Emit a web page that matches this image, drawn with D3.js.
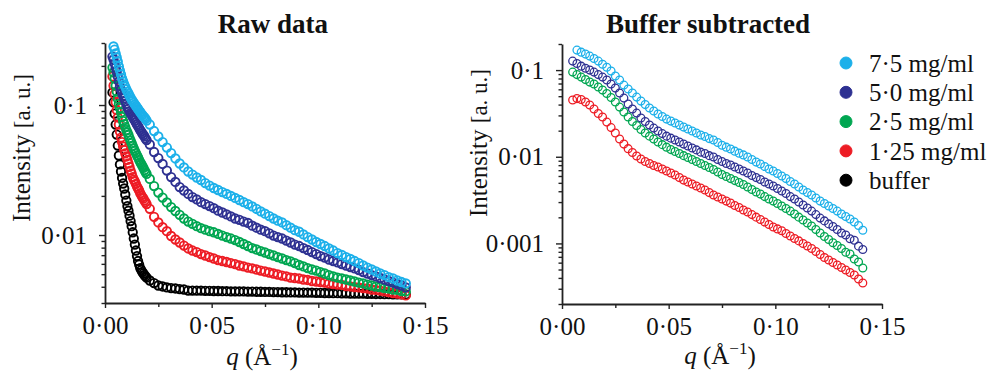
<!DOCTYPE html>
<html>
<head>
<meta charset="utf-8">
<script src="https://d3js.org/d3.v7.min.js"></script>
<style>
  body { margin: 0; background: #fff; }
  svg text { font-family: "Liberation Serif", "Times New Roman", serif; fill: #111; }
  .axis .domain { stroke: #222; stroke-width: 1.8; }
  .axis line { stroke: #222; stroke-width: 1.4; }
  .axis text { font-size: 25px; }
  .title { font-size: 27px; font-weight: bold; }
  .lab { font-size: 25px; }
</style>
</head>
<body>
<svg id="chart" width="987" height="374"></svg>
<script>
// ---- raw data panel (q in 1/A) ----
var rawQ = [0.0035,0.004,0.0045,0.005,0.0055,0.006,0.0065,0.007,0.0075,0.008,0.0085,0.009,0.0095,0.010,0.0105,0.011,0.0115,0.012,0.0125,0.013,0.0135,0.014,0.0145,0.015,0.0155,0.016,0.0165,0.017,0.0175,0.018,0.0185,0.019,0.0195,
  0.021,0.023,0.025,0.027,0.029,0.031,0.033,0.035,0.037,0.039,0.041,0.043,0.045,0.047,0.049,0.051,0.053,0.055,0.057,0.059,0.061,0.063,0.065,0.067,0.069,0.071,0.073,0.075,0.077,0.079,0.081,0.083,0.085,0.087,0.089,0.091,0.093,0.095,0.097,0.099,0.101,0.103,0.105,0.107,0.109,0.111,0.113,0.115,0.117,0.119,0.121,0.123,0.125,0.127,0.129,0.131,0.133,0.135,0.137,0.139,0.141];

var rawCyan = [null,0.282,0.267,0.249,0.232,0.216,0.198,0.184,0.172,0.160,0.152,0.144,0.138,0.132,0.127,0.123,0.118,0.114,0.110,0.107,0.104,0.101,0.0983,0.0957,0.0932,0.0907,0.0884,0.0860,0.0838,0.0816,0.0802,0.0781,0.0760,
  0.0708,0.0631,0.0573,0.0519,0.0471,0.0427,0.0388,0.0355,0.0331,0.0308,0.0292,0.0277,0.0265,0.0251,0.0240,0.0230,0.0222,0.0214,0.0207,0.0200,0.0193,0.0186,0.0179,0.0173,0.0166,0.0159,0.0152,0.0146,0.0140,0.0134,0.0129,0.0125,0.0119,0.0114,0.0109,0.0106,0.0101,0.00965,0.00924,0.00884,0.00853,0.00823,0.00788,0.00760,0.00727,0.00702,0.00677,0.00654,0.00631,0.00609,0.00583,0.00562,0.00543,0.00524,0.00506,0.00492,0.00475,0.00463,0.00447,0.00435,0.00424];

var rawBlue = [0.236,0.224,0.209,0.194,0.181,0.166,0.152,0.139,0.131,0.124,0.118,0.113,0.107,0.102,0.0965,0.0932,0.0899,0.0868,0.0838,0.0809,0.0781,0.0760,0.0734,0.0708,0.0689,0.0665,0.0642,0.0625,0.0604,0.0588,0.0573,0.0552,0.0538,
  0.0497,0.0435,0.0391,0.0352,0.0313,0.0279,0.0256,0.0234,0.0220,0.0207,0.0196,0.0188,0.0179,0.0173,0.0167,0.0161,0.0154,0.0149,0.0144,0.0139,0.0134,0.0131,0.0127,0.0124,0.0118,0.0114,0.0110,0.0107,0.0103,0.00991,0.00965,0.00940,0.00907,0.00876,0.00845,0.00823,0.00794,0.00767,0.00740,0.00714,0.00689,0.00671,0.00648,0.00631,0.00615,0.00598,0.00583,0.00567,0.00553,0.00538,0.00519,0.00506,0.00492,0.00480,0.00467,0.00455,0.00443,0.00431,0.00420,0.00409,0.00395];

var rawGreen = [0.194,0.178,0.160,0.141,0.127,0.112,0.102,0.0948,0.0876,0.0809,0.0753,0.0714,0.0677,0.0642,0.0615,0.0588,0.0557,0.0533,0.0510,0.0484,0.0463,0.0443,0.0427,0.0409,0.0395,0.0378,0.0364,0.0352,0.0340,0.0328,0.0316,0.0305,0.0295,
  0.0270,0.0238,0.0212,0.0194,0.0178,0.0164,0.0153,0.0143,0.0134,0.0127,0.0122,0.0117,0.0113,0.0110,0.0107,0.0105,0.0102,0.00991,0.00965,0.00940,0.00915,0.00884,0.00853,0.00823,0.00794,0.00774,0.00753,0.00734,0.00714,0.00696,0.00677,0.00660,0.00642,0.00626,0.00609,0.00588,0.00573,0.00557,0.00543,0.00533,0.00519,0.00506,0.00492,0.00480,0.00471,0.00463,0.00455,0.00447,0.00439,0.00431,0.00424,0.00416,0.00409,0.00402,0.00398,0.00391,0.00388,0.00381,0.00378,0.00371,0.00368];

var rawRed = [0.166,0.141,0.121,0.105,0.0915,0.0802,0.0708,0.0625,0.0562,0.0519,0.0480,0.0451,0.0424,0.0402,0.0378,0.0355,0.0334,0.0313,0.0297,0.0279,0.0267,0.0258,0.0247,0.0236,0.0228,0.0220,0.0210,0.0203,0.0196,0.0191,0.0184,0.0179,0.0173,
  0.0159,0.0138,0.0125,0.0115,0.0107,0.00983,0.00924,0.00876,0.00830,0.00788,0.00760,0.00740,0.00714,0.00696,0.00677,0.00660,0.00642,0.00631,0.00620,0.00609,0.00598,0.00583,0.00573,0.00562,0.00553,0.00543,0.00533,0.00524,0.00515,0.00506,0.00497,0.00488,0.00480,0.00471,0.00467,0.00463,0.00455,0.00451,0.00443,0.00439,0.00435,0.00431,0.00424,0.00420,0.00416,0.00413,0.00405,0.00402,0.00398,0.00395,0.00391,0.00388,0.00381,0.00378,0.00374,0.00368,0.00364,0.00358,0.00355,0.00349,0.00343];

var rawBuffer = [0.125,0.105,0.0860,0.0708,0.0593,0.0488,0.0409,0.0349,0.0308,0.0275,0.0249,0.0228,0.0205,0.0184,0.0167,0.0154,0.0141,0.0128,0.0117,0.0105,0.00940,0.00845,0.00760,0.00689,0.00631,0.00593,0.00557,0.00538,0.00519,0.00506,0.00492,0.00480,0.00471,
  0.00447,0.00427,0.00409,0.00402,0.00395,0.00391,0.00388,0.00384,0.00381,0.00374,0.00374,0.00373,0.00373,0.00372,0.00372,0.00371,0.00371,0.00370,0.00370,0.00369,0.00369,0.00368,0.00368,0.00367,0.00367,0.00366,0.00366,0.00365,0.00365,0.00364,0.00364,0.00363,0.00363,0.00362,0.00362,0.00361,0.00361,0.00360,0.00360,0.00359,0.00359,0.00358,0.00358,0.00357,0.00357,0.00356,0.00356,0.00355,0.00355,0.00354,0.00354,0.00353,0.00353,0.00352,0.00352,0.00351,0.00351,0.00350,0.00350,0.00349,0.00349];

// ---- buffer subtracted panel ----
var subQ = [0.005,0.007,0.009,0.011,0.013,0.015,0.017,0.019,0.021,0.023,0.025,0.027,0.029,0.031,0.033,0.035,0.037,0.039,0.041,0.043,0.045,0.047,0.049,0.051,0.053,0.055,0.057,0.059,0.061,0.063,0.065,0.067,0.069,0.071,0.073,0.075,0.077,0.079,0.081,0.083,0.085,0.087,0.089,0.091,0.093,0.095,0.097,0.099,0.101,0.103,0.105,0.107,0.109,0.111,0.113,0.115,0.117,0.119,0.121,0.123,0.125,0.127,0.129,0.131,0.133,0.135,0.137,0.139,0.141];

var subCyan = [null,0.170,0.161,0.153,0.145,0.136,0.127,0.117,0.108,0.0974,0.0853,0.0767,0.0671,0.0604,0.0543,0.0488,0.0439,0.0400,0.0365,0.0337,0.0311,0.0291,0.0272,0.0258,0.0245,0.0232,0.0220,0.0209,0.0198,0.0188,0.0178,0.0171,0.0162,0.0156,0.0146,0.0136,0.0129,0.0123,0.0116,0.0110,0.0105,0.00992,0.00928,0.00868,0.00824,0.00771,0.00721,0.00684,0.00640,0.00599,0.00560,0.00518,0.00484,0.00447,0.00413,0.00386,0.00362,0.00334,0.00308,0.00289,0.00270,0.00253,0.00236,0.00218,0.00204,0.00191,0.00177,0.00161,0.00142];

var subBlue = [0.127,0.119,0.111,0.105,0.100,0.0948,0.0887,0.0830,0.0767,0.0690,0.0620,0.0543,0.0475,0.0405,0.0355,0.0319,0.0280,0.0255,0.0232,0.0214,0.0198,0.0185,0.0173,0.0164,0.0156,0.0148,0.0140,0.0133,0.0126,0.0120,0.0113,0.0109,0.0103,0.00992,0.00928,0.00880,0.00835,0.00802,0.00761,0.00721,0.00684,0.00649,0.00607,0.00575,0.00546,0.00511,0.00484,0.00459,0.00430,0.00402,0.00376,0.00347,0.00325,0.00300,0.00277,0.00256,0.00236,0.00215,0.00196,0.00182,0.00168,0.00157,0.00145,0.00132,0.00125,0.00113,0.00109,0.000930,0.000850];

var subGreen = [0.0948,0.0887,0.0830,0.0777,0.0727,0.0690,0.0637,0.0588,0.0536,0.0482,0.0428,0.0374,0.0328,0.0287,0.0255,0.0229,0.0206,0.0188,0.0173,0.0160,0.0148,0.0138,0.0129,0.0121,0.0115,0.0109,0.0103,0.00979,0.00928,0.00880,0.00835,0.00792,0.00751,0.00712,0.00666,0.00623,0.00591,0.00560,0.00531,0.00504,0.00478,0.00447,0.00419,0.00392,0.00371,0.00347,0.00325,0.00308,0.00289,0.00270,0.00253,0.00236,0.00218,0.00201,0.00186,0.00172,0.00159,0.00145,0.00132,0.00120,0.00111,0.00102,0.000946,0.000873,0.000790,0.000755,0.000660,0.000610,0.000521];

var subRed = [0.0451,0.0469,0.0457,0.0428,0.0395,0.0355,0.0315,0.0287,0.0251,0.0217,0.0188,0.0160,0.0140,0.0124,0.0112,0.0102,0.00941,0.00880,0.00835,0.00792,0.00761,0.00721,0.00684,0.00649,0.00615,0.00575,0.00538,0.00511,0.00484,0.00459,0.00436,0.00413,0.00386,0.00362,0.00343,0.00325,0.00308,0.00292,0.00274,0.00260,0.00243,0.00230,0.00215,0.00201,0.00189,0.00177,0.00165,0.00155,0.00147,0.00140,0.00130,0.00122,0.00114,0.00107,0.000997,0.000933,0.000873,0.000806,0.000745,0.000688,0.000643,0.000602,0.000563,0.000527,0.000494,0.000462,0.000432,0.000389,0.000349];

var xTicks = [0, 0.05, 0.10, 0.15];
var xMinor = [0.025, 0.075, 0.125];
var legendNames = ["7·5 mg/ml", "5·0 mg/ml", "2·5 mg/ml", "1·25 mg/ml", "buffer"];
var legendColors = ["#1cb0ea", "#2e3192", "#00a651", "#ed1c24", "#000000"];

var svg = d3.select("#chart");

function panel(cfg) {
  var x = d3.scaleLinear().domain([0, 0.15]).range(cfg.xr);
  var y = d3.scaleLog().domain(cfg.yd).range(cfg.yr);
  var g = svg.append("g");

  // points, drawn back to front
  cfg.series.forEach(function(s) {
    g.append("g").selectAll("circle")
      .data(d3.zip(cfg.q, s.values).filter(function(d) { return d[1] != null; }))
      .join("circle")
      .attr("cx", function(d) { return x(d[0]); })
      .attr("cy", function(d) { return y(d[1]); })
      .attr("r", cfg.r)
      .attr("fill", "none")
      .attr("stroke", s.color)
      .attr("stroke-width", cfg.sw);
  });

  // x axis
  var fx = function(d) { return d3.format(".2f")(d).replace(".", "·"); };
  g.append("g").attr("class", "axis").attr("transform", "translate(0," + cfg.yr[0] + ")")
    .call(d3.axisBottom(x).tickValues(xTicks).tickSize(5).tickSizeOuter(0).tickPadding(8).tickFormat(fx));
  g.append("g").attr("class", "axis").attr("transform", "translate(0," + cfg.yr[0] + ")")
    .call(d3.axisBottom(x).tickValues(xMinor).tickSize(4).tickFormat(""))
    .select(".domain").remove();

  // y axis, log
  var fy = function(d) { return String(d).replace(".", "·"); };
  g.append("g").attr("class", "axis").attr("transform", "translate(" + cfg.xr[0] + ",0)")
    .call(d3.axisLeft(y).tickValues(cfg.yMajor).tickSize(6).tickSizeOuter(0).tickPadding(12).tickFormat(fy));
  var minor = y.ticks().filter(function(t) { return cfg.yMajor.indexOf(t) < 0; });
  g.append("g").attr("class", "axis").attr("transform", "translate(" + cfg.xr[0] + ",0)")
    .call(d3.axisLeft(y).tickValues(minor).tickSize(3.5).tickFormat(""))
    .select(".domain").remove();

  // titles
  g.append("text").attr("class", "title").attr("x", cfg.titleX).attr("y", 33)
    .attr("text-anchor", "middle").text(cfg.title);

  var xl = g.append("text").attr("class", "lab").attr("x", cfg.xLabX).attr("y", cfg.xLabY)
    .attr("text-anchor", "middle");
  xl.append("tspan").attr("font-style", "italic").text("q");
  xl.append("tspan").text(" (Å");
  xl.append("tspan").attr("dy", -10).attr("font-size", 17).text("−1");
  xl.append("tspan").attr("dy", 10).text(")");

  var yl = g.append("text").attr("class", "lab")
    .attr("transform", "translate(" + cfg.yLabX + "," + cfg.yLabY + ") rotate(-90)")
    .attr("text-anchor", "middle");
  yl.append("tspan").text("Intensity ");
  yl.append("tspan").attr("font-size", 23).text("[a. u.]");
}

panel({
  xr: [105, 425], yd: [0.003, 0.3], yr: [303, 43], yMajor: [0.1, 0.01], r: 4.2, sw: 1.9,
  q: rawQ,
  series: [
    { values: rawBuffer, color: legendColors[4] },
    { values: rawRed, color: legendColors[3] },
    { values: rawGreen, color: legendColors[2] },
    { values: rawBlue, color: legendColors[1] },
    { values: rawCyan, color: legendColors[0] }
  ],
  title: "Raw data", titleX: 273, xLabX: 262, xLabY: 365, yLabX: 30, yLabY: 148
});

panel({
  xr: [562, 882], yd: [0.0002, 0.2], yr: [304, 44], yMajor: [0.1, 0.01, 0.001], r: 3.9, sw: 1.3,
  q: subQ,
  series: [
    { values: subRed, color: legendColors[3] },
    { values: subGreen, color: legendColors[2] },
    { values: subBlue, color: legendColors[1] },
    { values: subCyan, color: legendColors[0] }
  ],
  title: "Buffer subtracted", titleX: 708, xLabX: 720, xLabY: 364, yLabX: 487, yLabY: 143
});

// legend
var lg = svg.append("g");
legendNames.forEach(function(name, i) {
  var yy = 63 + i * 29.3;
  lg.append("circle").attr("cx", 846).attr("cy", yy).attr("r", 6)
    .attr("fill", legendColors[i]).attr("stroke", legendColors[i]).attr("stroke-width", 1);
  lg.append("text").attr("class", "lab").attr("x", 869).attr("y", yy).attr("dy", "0.35em").text(name);
});
</script>
</body>
</html>
